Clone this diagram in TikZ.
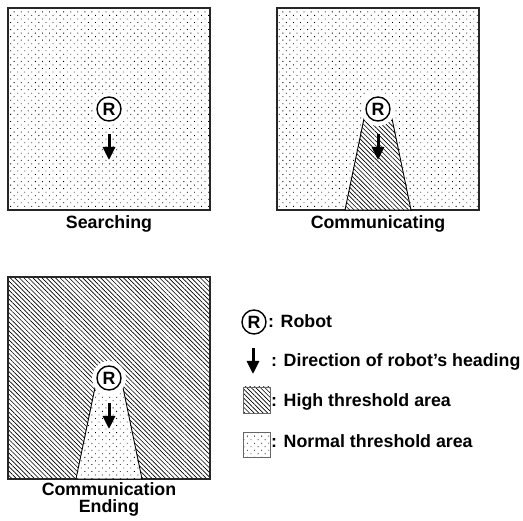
\documentclass[tikz,border=0pt]{standalone}
\usepackage{fontspec}
\setmainfont{Liberation Sans}
\usetikzlibrary{patterns.meta, arrows.meta}

\begin{document}
\begin{tikzpicture}[x=1pt, y=-1pt,
  font=\fontsize{17.8}{18}\selectfont\bfseries,
  normalarea/.style={pattern={Dots[angle=45, distance=5pt, radius=0.6pt]}},
  higharea/.style={pattern={Lines[angle=-45, distance=3.2pt, line width=0.65pt]}},
  panel/.style={draw=black!85, line width=1.2pt},
  cone/.style={draw, line width=0.9pt, preaction={fill=white}},
  halo/.style={fill=white},
  robot/.style={circle, draw, line width=1.4pt, minimum size=24pt, inner sep=0pt, fill=white},
  heading/.style={line width=3pt, -{Triangle[width=12pt, length=13pt]}},
  caption/.style={anchor=base, inner sep=0pt},
  legtext/.style={anchor=base west, inner sep=0pt}]

  \useasboundingbox (0,0) rectangle (523,521);

  % Searching
  \draw[panel, normalarea] (8,8) rectangle (210,210);
  \fill[halo] (109,109) circle (16);
  \node[robot] (rS) at (109,109) {R};
  \coordinate (hS0) at (109,134);
  \coordinate (hS1) at (109,160);
  \draw[heading] (hS0) -- (hS1);
  \node[caption] (lS) at (109,229) {Searching};

  % Communicating
  \draw[panel, normalarea] (277,8) rectangle (479,210);
  \draw[cone, higharea] (366,109) -- (345,210) -- (411,210) -- (390,109) -- cycle;
  \fill[halo] (378,109) circle (17);
  \node[robot] (rC) at (378,109) {R};
  \coordinate (hC0) at (378,134);
  \coordinate (hC1) at (378,160);
  \draw[heading] (hC0) -- (hC1);
  \node[caption] (lC) at (378,229) {Communicating};

  % Communication ending
  \draw[panel, higharea] (8,277) rectangle (210,479);
  \draw[cone, normalarea] (97,378) -- (76,479) -- (142,479) -- (121,378) -- cycle;
  \fill[halo] (109,378) circle (17);
  \node[robot] (rE) at (109,378) {R};
  \coordinate (hE0) at (109,403);
  \coordinate (hE1) at (109,429);
  \draw[heading] (hE0) -- (hE1);
  \node[caption] (lE1) at (109,496) {Communication};
  \node[caption] (lE2) at (109,513) {Ending};

  % legend
  \node[robot] (rL) at (254,322) {R};
  \node[legtext] (tR) at (268,328) {: Robot};
  \coordinate (hL0) at (253,348);
  \coordinate (hL1) at (253,374);
  \draw[heading] (hL0) -- (hL1);
  \node[legtext] (tD) at (271,367) {: Direction of robot’s heading};
  \draw[higharea, draw=black!60, line width=0.7pt] (243,387) rectangle (270,413);
  \node[legtext] (tH) at (271,407) {: High threshold area};
  \draw[normalarea, draw=black!60, line width=0.7pt] (243,432) rectangle (270,457);
  \node[legtext] (tN) at (271,448) {: Normal threshold area};

\end{tikzpicture}
\end{document}
